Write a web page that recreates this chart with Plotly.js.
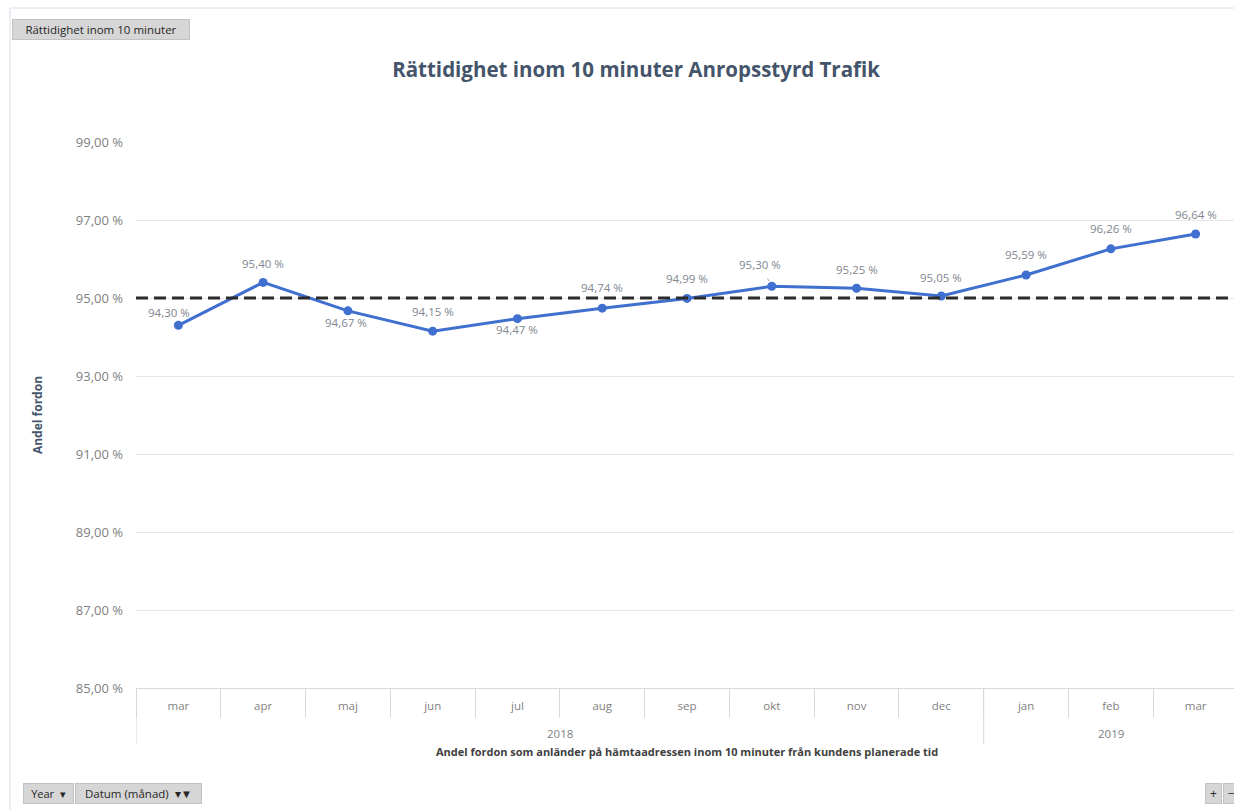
<!DOCTYPE html>
<html>
<head>
<meta charset="utf-8">
<script src="https://cdn.plot.ly/plotly-3.0.1.min.js"></script>
<style>
html,body{margin:0;padding:0;overflow:hidden;background:#fff;}
#chart{width:1240px;height:810px;}
</style>
</head>
<body>
<div id="chart"></div>
<script>
// ---- data ----
const months = ['mar','apr','maj','jun','jul','aug','sep','okt','nov','dec','jan','feb','mar'];
const years  = ['2018','2018','2018','2018','2018','2018','2018','2018','2018','2018','2019','2019','2019'];
const values = [94.30, 95.40, 94.67, 94.15, 94.47, 94.74, 94.99, 95.30, 95.25, 95.05, 95.59, 96.26, 96.64];
const target = 95.00;
const yMin = 85, yMax = 99, yStep = 2;

const chartTitle = 'Rättidighet inom 10 minuter Anropsstyrd Trafik';
const yTitle = 'Andel fordon';
const xTitle = 'Andel fordon som anländer på hämtaadressen inom 10 minuter från kundens planerade tid';

// ---- label placement (style only) ----
const labelDx = [-9, 0, -2, 0, 0, 0, 0, -12, 0, 0, 0, 0, 0];
const labelDy = [-13, -19, 12, -20, 11, -21, -20, -22, -19, -19, -20, -20, -20];
const leader  = [false,false,false,false,false,false,false,true,false,false,false,false,false];

const FONT = 'Open Sans, Lato, sans-serif';
const GRAY = '#7f7f7f';
const LINEGRAY = '#d9d9d9';
const W = 1240, H = 810;
const M = {l:136, r:2, t:142, b:122};
const PW = W - M.l - M.r, PH = H - M.t - M.b;
const px = x => (x - M.l) / PW;
const py = y => (H - M.b - y) / PH;

const fmt = v => v.toFixed(2).replace('.', ',') + ' %';

// unique category key per period (year + month)
const keys = months.map((m, i) => years[i] + ' ' + m);

const trace = {
  type: 'scatter',
  mode: 'lines+markers',
  x: keys,
  y: values,
  line: {color: '#3f6fcf', width: 3},
  marker: {color: '#3f6fcf', size: 9},
  hoverinfo: 'skip',
  showlegend: false
};

const annotations = values.map((v, i) => ({
  x: keys[i], y: v, xref: 'x', yref: 'y',
  text: fmt(v),
  showarrow: true,
  ax: labelDx[i], ay: labelDy[i],
  arrowhead: 0, arrowwidth: 1, standoff: 6, startstandoff: 6,
  arrowcolor: leader[i] ? '#a6a6a6' : 'rgba(0,0,0,0)',
  font: {family: FONT, size: 11.5, color: '#80868f'}
}));

// year groups -> outer-level labels and long dividers
const yearGroups = [];
years.forEach((y, i) => {
  const g = yearGroups[yearGroups.length - 1];
  if (g && g.year === y) g.last = i; else yearGroups.push({year: y, first: i, last: i});
});
const shapes = [];
yearGroups.forEach(g => {
  annotations.push({
    x: (g.first + g.last) / 2, y: py(733), xref: 'x', yref: 'paper',
    text: g.year, showarrow: false, xanchor: 'center', yanchor: 'middle',
    font: {family: FONT, size: 11.5, color: GRAY}
  });
  shapes.push({type: 'line', xref: 'x', yref: 'paper', x0: g.first - 0.5, x1: g.first - 0.5,
    y0: 0, y1: py(744), line: {color: LINEGRAY, width: 1}});
});
const lastG = yearGroups[yearGroups.length - 1];
shapes.push({type: 'line', xref: 'x', yref: 'paper', x0: lastG.last + 0.5, x1: lastG.last + 0.5,
  y0: 0, y1: py(744), line: {color: LINEGRAY, width: 1}});

function button(text, x0, x1, y0, y1, size) {
  return {
    xref: 'paper', yref: 'paper',
    x: px((x0 + x1) / 2), y: py((y0 + y1) / 2),
    xanchor: 'center', yanchor: 'middle',
    width: x1 - x0 - 2, height: y1 - y0 - 2,
    text: text, showarrow: false, align: 'center',
    bgcolor: '#d6d6d6', bordercolor: '#c2c2c2', borderwidth: 1, borderpad: 0,
    font: {family: FONT, size: size || 10, color: '#262626'}
  };
}
annotations.push(button('Rättidighet inom 10 minuter', 12, 190, 19, 40, 11.5));
annotations.push(button('Year  ▾', 23, 74, 783, 804, 11));
annotations.push(button('Datum (månad)  ▾▼', 75, 202, 783, 804, 11.5));
annotations.push(button('+', 1205, 1222, 783, 804, 12));
annotations.push(button('−', 1223, 1240, 783, 804, 12));

shapes.push(
  {type: 'line', xref: 'paper', yref: 'y', x0: 0, x1: 1, y0: target, y1: target,
   line: {color: '#2b2b2b', width: 3, dash: '12px,6px'}},
  {type: 'line', xref: 'paper', yref: 'paper', x0: px(10), x1: px(1240), y0: py(8), y1: py(8),
   line: {color: '#d8dee8', width: 1}},
  {type: 'line', xref: 'paper', yref: 'paper', x0: px(10), x1: px(10), y0: py(8), y1: py(810),
   line: {color: '#d8dee8', width: 1}}
);

const layout = {
  width: W, height: H,
  margin: M,
  paper_bgcolor: '#ffffff', plot_bgcolor: '#ffffff',
  separators: ', ',
  title: {
    text: '<b>' + chartTitle + '</b>',
    x: 633 / 1234, xref: 'container', xanchor: 'center',
    y: 1 - 70 / H, yref: 'container', yanchor: 'middle',
    font: {family: FONT, size: 20.5, color: '#44546a'}
  },
  xaxis: {
    type: 'category',
    categoryorder: 'array', categoryarray: keys,
    tickmode: 'array', tickvals: keys, ticktext: months,
    range: [-0.5, keys.length - 0.5],
    autorange: false,
    automargin: false,
    showline: true, linecolor: LINEGRAY, linewidth: 1,
    ticks: 'outside', tickson: 'boundaries', ticklen: 29, tickcolor: LINEGRAY, tickwidth: 1,
    ticklabelstandoff: 7,
    showgrid: false, zeroline: false,
    tickfont: {family: FONT, size: 11.5, color: GRAY},
    title: {text: '<b>' + xTitle + '</b>', standoff: 36,
            font: {family: FONT, size: 11, color: '#404040'}}
  },
  yaxis: {
    range: [yMin, yMax],
    autorange: false,
    automargin: false,
    tickmode: 'linear', tick0: yMin, dtick: yStep,
    tickformat: '.2f', ticksuffix: ' %',
    showgrid: true, gridcolor: '#e6e6e6', gridwidth: 1,
    zeroline: false, showline: false, ticks: '',
    ticklabelstandoff: 12,
    tickfont: {family: FONT, size: 13, color: GRAY},
    title: {text: '<b>' + yTitle + '</b>', standoff: 30,
            font: {family: FONT, size: 12, color: '#44546a'}}
  },
  annotations: annotations,
  shapes: shapes
};

Plotly.newPlot('chart', [trace], layout, {displayModeBar: false, staticPlot: true});
</script>
</body>
</html>
